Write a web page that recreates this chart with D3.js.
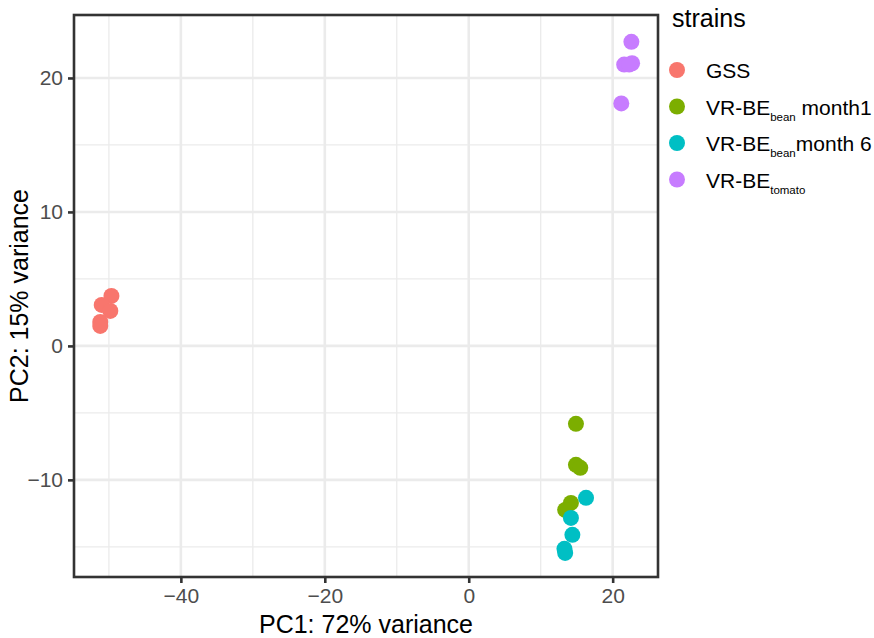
<!DOCTYPE html>
<html>
<head>
<meta charset="utf-8">
<script src="https://cdn.jsdelivr.net/npm/d3@7"></script>
<style>
  body { margin: 0; background: #fff; }
  svg { font-family: "Liberation Sans", Arial, sans-serif; }
</style>
</head>
<body>
<svg width="874" height="638"></svg>
<script>
// PCA coordinates per strain group
var gssPC1 = [-49.65, -51.0, -49.8, -51.2, -51.2],
    gssPC2 = [3.73, 3.06, 2.61, 1.79, 1.49];
var m1PC1 = [14.9, 14.9, 15.5, 14.2, 13.4],
    m1PC2 = [-5.82, -8.88, -9.10, -11.72, -12.24];
var m6PC1 = [16.3, 14.2, 14.4, 13.3, 13.4],
    m6PC2 = [-11.34, -12.84, -14.10, -15.15, -15.45];
var tomPC1 = [22.6, 21.6, 22.7, 22.3, 21.2],
    tomPC2 = [22.7, 21.0, 21.1, 21.0, 18.1];

var groups = ["GSS", "VR-BE bean month1", "VR-BE bean month 6", "VR-BE tomato"];
var colors = ["#F8766D", "#7CAE00", "#00BFC4", "#C77CFF"];
// legend label pieces: main, subscript, tail
var legendLabels = [
  ["GSS", "", ""],
  ["VR-BE", "bean", " month1"],
  ["VR-BE", "bean", "month 6"],
  ["VR-BE", "tomato", ""]
];
var xTicks = [-40, -20, 0, 20], xMinor = [-50, -30, -10, 10];
var yTicks = [-10, 0, 10, 20], yMinor = [-15, -5, 5, 15];

var data = [];
[[gssPC1, gssPC2], [m1PC1, m1PC2], [m6PC1, m6PC2], [tomPC1, tomPC2]].forEach(function(s, i) {
  s[0].forEach(function(v, j) { data.push({g: i, pc1: v, pc2: s[1][j]}); });
});

var svg = d3.select("svg"),
    margin = {top: 15, right: 216, bottom: 61, left: 74},
    width = +svg.attr("width") - margin.left - margin.right,
    height = +svg.attr("height") - margin.top - margin.bottom;

var x = d3.scaleLinear().domain([-54.85, 26.3]).range([0, width]),
    y = d3.scaleLinear().domain([-17.25, 24.7]).range([height, 0]);

var g = svg.append("g")
    .attr("transform", "translate(" + margin.left + "," + margin.top + ")");

// grid
g.selectAll(".xminor").data(xMinor).enter().append("line")
    .attr("x1", x).attr("x2", x).attr("y1", 0).attr("y2", height)
    .attr("stroke", "#ebebeb").attr("stroke-width", 1.3);
g.selectAll(".yminor").data(yMinor).enter().append("line")
    .attr("y1", y).attr("y2", y).attr("x1", 0).attr("x2", width)
    .attr("stroke", "#ebebeb").attr("stroke-width", 1.3);
g.selectAll(".xmajor").data(xTicks).enter().append("line")
    .attr("x1", x).attr("x2", x).attr("y1", 0).attr("y2", height)
    .attr("stroke", "#ebebeb").attr("stroke-width", 2.6);
g.selectAll(".ymajor").data(yTicks).enter().append("line")
    .attr("y1", y).attr("y2", y).attr("x1", 0).attr("x2", width)
    .attr("stroke", "#ebebeb").attr("stroke-width", 2.6);

// points
g.selectAll(".dot")
    .data(data)
    .enter().append("circle")
      .attr("cx", function(d) { return x(d.pc1); })
      .attr("cy", function(d) { return y(d.pc2); })
      .attr("r", 8)
      .attr("fill", function(d) { return colors[d.g]; });

// border
g.append("rect")
    .attr("width", width).attr("height", height)
    .attr("fill", "none").attr("stroke", "#333").attr("stroke-width", 2.6);

// axes
var xAxis = g.append("g")
    .attr("transform", "translate(0," + height + ")")
    .call(d3.axisBottom(x).tickValues(xTicks).tickSize(6).tickPadding(5));
var yAxis = g.append("g")
    .call(d3.axisLeft(y).tickValues(yTicks).tickSize(6).tickPadding(5));
[xAxis, yAxis].forEach(function(a) {
  a.select(".domain").remove();
  a.selectAll("line").attr("stroke", "#333").attr("stroke-width", 2.6);
  a.selectAll("text").attr("fill", "#4d4d4d").style("font-size", "21px")
      .style("font-family", "Liberation Sans, Arial, sans-serif");
});

svg.append("text")
    .attr("x", margin.left + width / 2)
    .attr("y", 633)
    .attr("text-anchor", "middle")
    .style("font-size", "25px")
    .text("PC1: 72% variance");

svg.append("text")
    .attr("transform", "translate(28," + (margin.top + height / 2) + ") rotate(-90)")
    .attr("text-anchor", "middle")
    .style("font-size", "25px")
    .text("PC2: 15% variance");

// legend
var legend = svg.append("g").attr("transform", "translate(672,0)");
legend.append("text")
    .attr("x", 0).attr("y", 27)
    .style("font-size", "25px")
    .text("strains");

var items = legend.selectAll(".item")
    .data(legendLabels)
    .enter().append("g")
      .attr("transform", function(d, i) { return "translate(0," + (70 + i * 36.5) + ")"; });
items.append("circle")
    .attr("cx", 5).attr("cy", 0).attr("r", 8)
    .attr("fill", function(d, i) { return colors[i]; });
var lbl = items.append("text")
    .attr("x", 34).attr("y", 8)
    .style("font-size", "21px");
lbl.append("tspan").text(function(d) { return d[0]; });
lbl.append("tspan")
    .attr("dy", 6)
    .style("font-size", "11.5px")
    .text(function(d) { return d[1]; });
lbl.append("tspan")
    .attr("dy", -6)
    .text(function(d) { return d[2]; });
</script>
</body>
</html>
